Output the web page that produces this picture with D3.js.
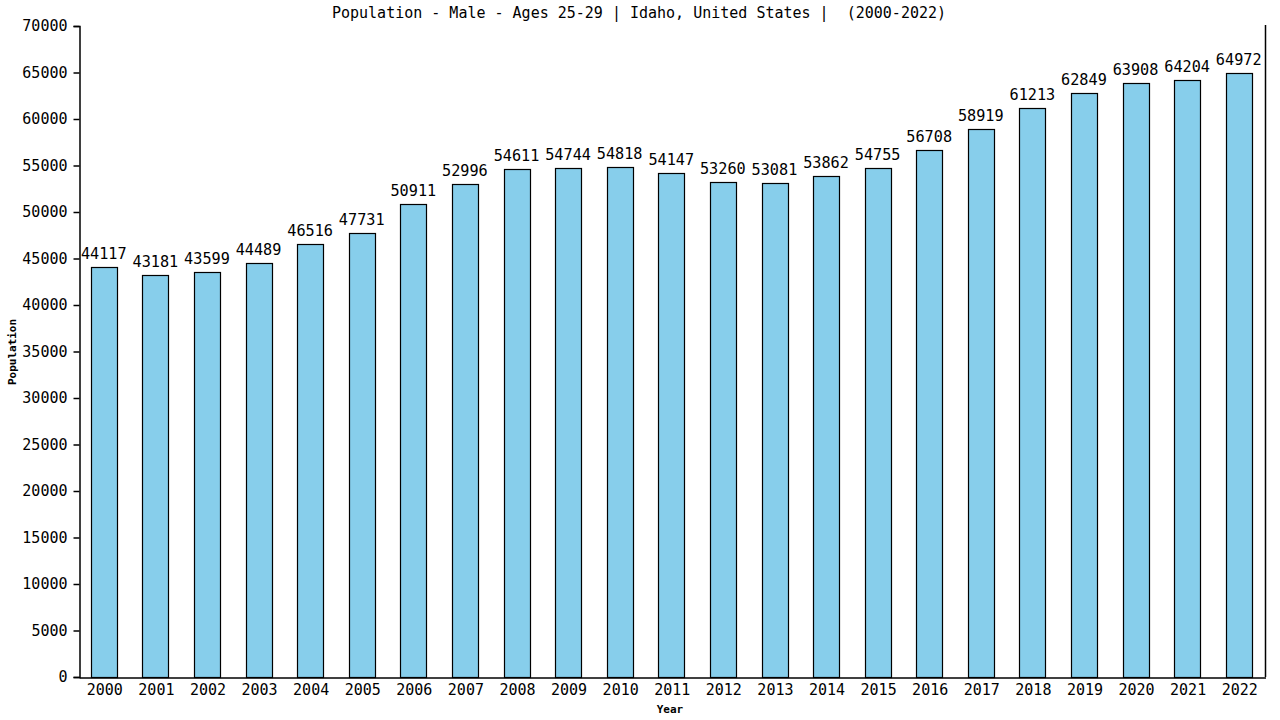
<!DOCTYPE html>
<html>
<head>
<meta charset="utf-8">
<script src="https://cdn.jsdelivr.net/npm/d3@7"></script>
<style>
  body { margin: 0; background: #fff; }
  text { font-family: "DejaVu Sans Mono", monospace; white-space: pre; }
</style>
</head>
<body>
<svg width="1280" height="720"></svg>
<script>
const years = ["2000","2001","2002","2003","2004","2005","2006","2007","2008","2009","2010","2011",
  "2012","2013","2014","2015","2016","2017","2018","2019","2020","2021","2022"];
const population = [44117,43181,43599,44489,46516,47731,50911,52996,54611,54744,54818,54147,
  53260,53081,53862,54755,56708,58919,61213,62849,63908,64204,64972];
const yTicks = [0,5000,10000,15000,20000,25000,30000,35000,40000,45000,50000,55000,60000,65000,70000];

const svg = d3.select("svg");
const plotLeft = 79, plotRight = 1265.5, plotTop = 26, plotBottom = 677;

const x = d3.scaleBand().domain(years).range([plotLeft, plotRight]).paddingInner(0.5).paddingOuter(0.25);
const y = d3.scaleLinear().domain([0, 70000]).range([plotBottom, plotTop]);

// bars
svg.append("g").selectAll("rect")
  .data(population)
  .enter().append("rect")
  .attr("x", (d, i) => Math.round(x(years[i])) - 0.5)
  .attr("y", d => Math.round(y(d)) + 0.5)
  .attr("width", Math.round(x.bandwidth()))
  .attr("height", d => plotBottom - Math.round(y(d)))
  .attr("fill", "#87ceeb")
  .attr("stroke", "#000")
  .attr("stroke-width", 1.2);

// value labels
svg.append("g").selectAll("text")
  .data(population)
  .enter().append("text")
  .attr("x", (d, i) => x(years[i]) + x.bandwidth() / 2 - 1)
  .attr("y", d => y(d) - 8)
  .attr("text-anchor", "middle")
  .attr("font-size", 15.2)
  .text(d => d);

// y axis
const yAxis = svg.append("g")
  .attr("transform", `translate(${plotLeft + 0.5},0)`)
  .call(d3.axisLeft(y).tickValues(yTicks).tickSize(6).tickFormat(d => d));
yAxis.select(".domain").attr("stroke", "#000").attr("stroke-width", 1.5);
yAxis.selectAll("text").attr("font-size", 15).attr("font-family", "DejaVu Sans Mono").attr("fill", "#000").attr("dx", -3).attr("dy", "0.33em");
yAxis.selectAll("line").attr("stroke-width", 1.5);

// x axis
const xAxis = svg.append("g")
  .attr("transform", `translate(0,${plotBottom + 0.5})`)
  .call(d3.axisBottom(x).tickSize(0).tickPadding(7));
xAxis.select(".domain").attr("stroke", "#000").attr("stroke-width", 1.5);
xAxis.selectAll("text").attr("font-size", 15).attr("font-family", "DejaVu Sans Mono").attr("fill", "#000").attr("dy", "0.72em");

// right border
svg.append("line")
  .attr("x1", plotRight).attr("x2", plotRight)
  .attr("y1", plotTop - 1).attr("y2", plotBottom)
  .attr("stroke", "#000").attr("stroke-width", 1.5);

// title and axis titles
svg.append("text")
  .attr("x", 639).attr("y", 18)
  .attr("text-anchor", "middle")
  .attr("font-size", 15)
  .text("Population - Male - Ages 25-29 | Idaho, United States |  (2000-2022)");

svg.append("text")
  .attr("x", 670).attr("y", 713)
  .attr("text-anchor", "middle")
  .attr("font-size", 11)
  .attr("font-weight", "bold")
  .text("Year");

svg.append("text")
  .attr("transform", "translate(16,352) rotate(-90)")
  .attr("text-anchor", "middle")
  .attr("font-size", 11)
  .attr("font-weight", "bold")
  .text("Population");
</script>
</body>
</html>
